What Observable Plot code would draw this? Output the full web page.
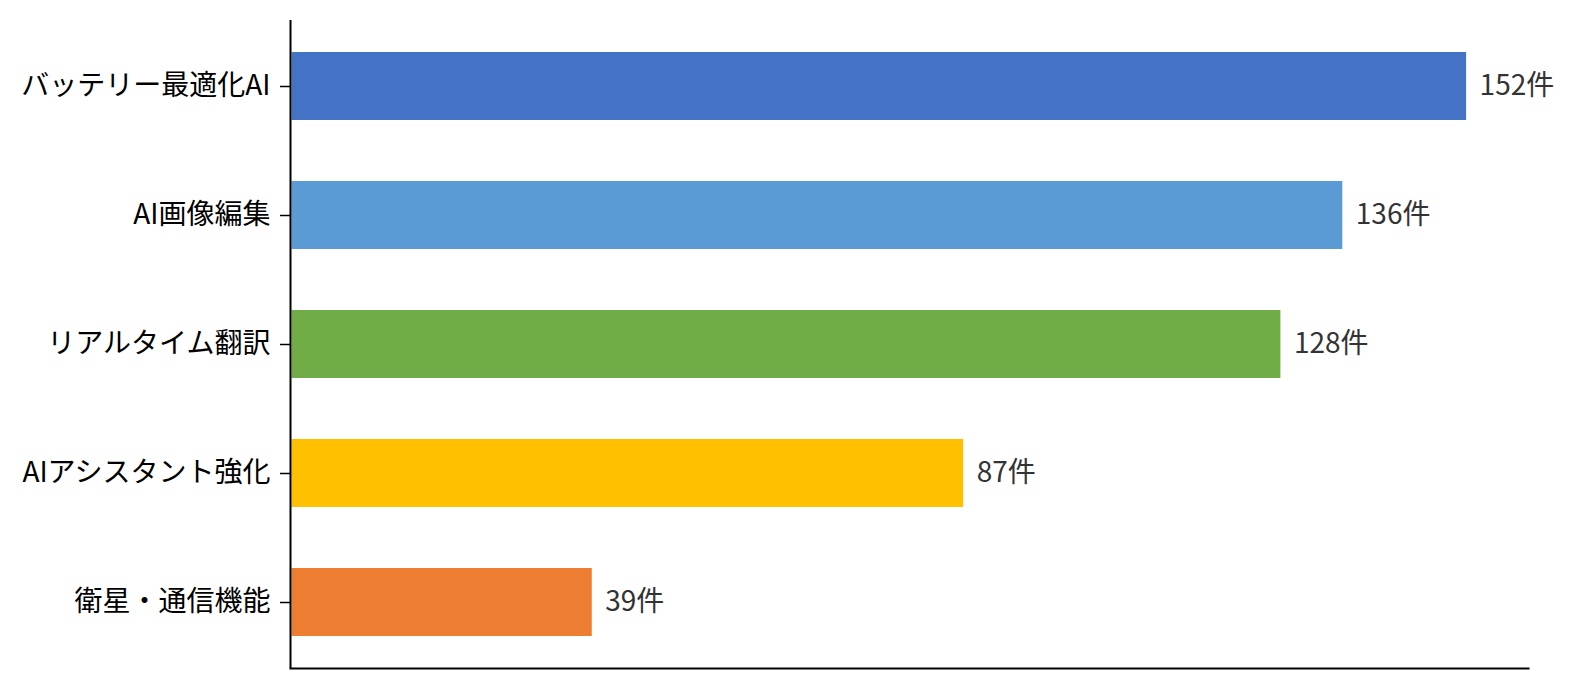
<!DOCTYPE html>
<html>
<head>
<meta charset="utf-8">
<script src="https://cdn.jsdelivr.net/npm/d3@7"></script>
<script src="https://cdn.jsdelivr.net/npm/@observablehq/plot@0.6"></script>
<style>
  html, body { margin: 0; padding: 0; background: #fff; }
  #chart { width: 1580px; height: 690px; }
  svg { font-family: "Noto Sans CJK JP", "Noto Sans", sans-serif; }
</style>
</head>
<body>
<div id="chart"></div>
<script>
const categories = ["バッテリー最適化AI", "AI画像編集", "リアルタイム翻訳", "AIアシスタント強化", "衛星・通信機能"];
const counts = [152, 136, 128, 87, 39];
const colors = ["#4472C4", "#5B9BD5", "#70AD47", "#FFC000", "#ED7D31"];
const unit = "件";

const data = categories.map((c, i) => ({category: c, count: counts[i], color: colors[i]}));

const chart = Plot.plot({
  width: 1580,
  height: 690,
  marginLeft: 290,
  marginRight: 52,
  marginTop: 20,
  marginBottom: 22,
  style: {fontFamily: '"Noto Sans CJK JP", "Noto Sans", sans-serif', fontSize: "28px", color: "#000", background: "#fff"},
  x: {domain: [0, 160], axis: null},
  y: {domain: categories, paddingInner: 0.476, paddingOuter: 0.244, label: null},
  marks: [
    Plot.barX(data, {x: "count", y: "category", fill: "color", insetLeft: 1.5}),
    Plot.text(data, {x: "count", y: "category", text: d => d.count + unit, textAnchor: "start", dx: 13, fill: "#333", fontSize: 28}),
    Plot.axisY({tickSize: 10, tickPadding: 10, fontSize: 28, stroke: "#000", strokeWidth: 1.5, fill: "#000", label: null}),
    Plot.ruleX([0], {stroke: "#000", strokeWidth: 2}),
    Plot.frame({anchor: "bottom", stroke: "#000", strokeWidth: 2})
  ]
});
document.getElementById("chart").appendChild(chart);
</script>
</body>
</html>
